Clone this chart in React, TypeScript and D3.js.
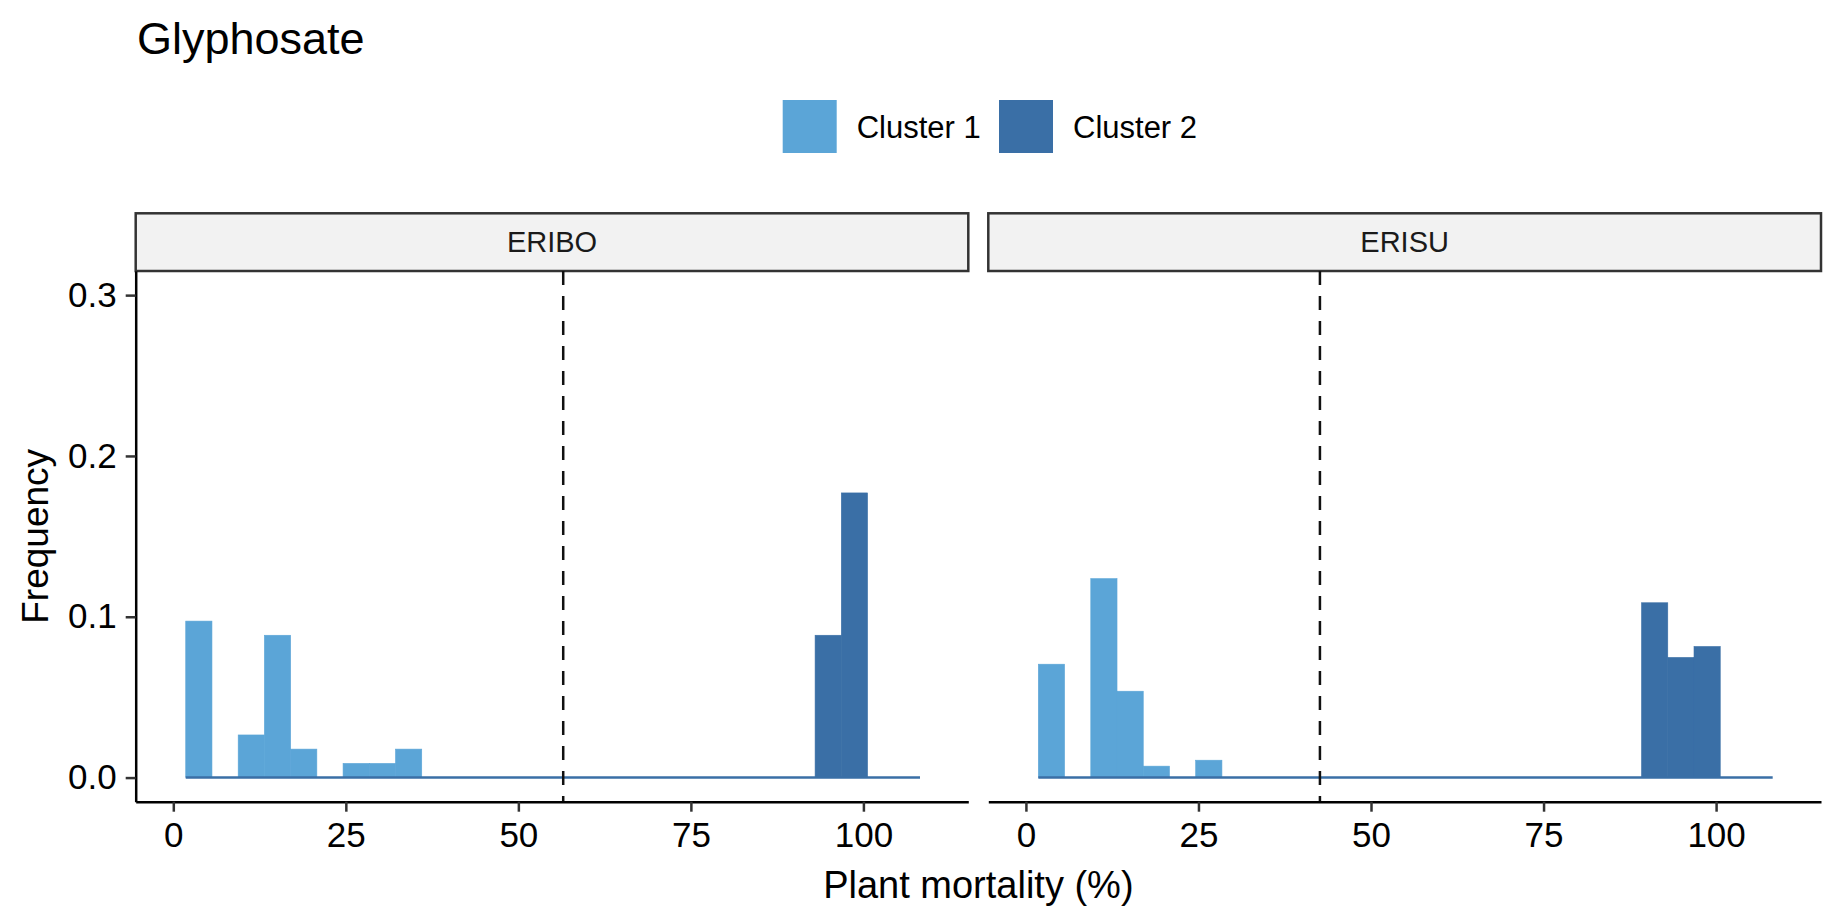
import React, { useEffect, useRef } from "react";
import * as d3 from "d3";

// histogram bins, left edge in % mortality (same bins in both facets)
const binStarts = [
  1.8, 5.6, 9.4, 13.2, 17.0, 20.8, 24.6, 28.4, 32.2, 36.0, 39.8, 43.6, 47.4, 51.2,
  55.0, 58.8, 62.6, 66.4, 70.2, 74.0, 77.8, 81.6, 85.4, 89.2, 93.0, 96.8, 100.6, 104.4,
];
const binWidth = 3.8;

const facets = ["ERIBO", "ERISU"];
const clusters = ["Cluster 1", "Cluster 2"];
const clusterColors = ["#5ba5d7", "#3a6fa6"];
// dashed threshold line per facet
const cutoffs = [56.5, 42.6];

// frequency per bin
const eriboCluster1 = [
  0.0973, 0, 0.0265, 0.0885, 0.0177, 0, 0.0088, 0.0088, 0.0177, 0, 0, 0, 0, 0,
  0, 0, 0, 0, 0, 0, 0, 0, 0, 0, 0, 0, 0, 0,
];
const eriboCluster2 = [
  0, 0, 0, 0, 0, 0, 0, 0, 0, 0, 0, 0, 0, 0,
  0, 0, 0, 0, 0, 0, 0, 0, 0, 0, 0.0885, 0.177, 0, 0,
];
const erisuCluster1 = [
  0.0705, 0, 0.1237, 0.0537, 0.0071, 0, 0.0108, 0, 0, 0, 0, 0, 0, 0,
  0, 0, 0, 0, 0, 0, 0, 0, 0, 0, 0, 0, 0, 0,
];
const erisuCluster2 = [
  0, 0, 0, 0, 0, 0, 0, 0, 0, 0, 0, 0, 0, 0,
  0, 0, 0, 0, 0, 0, 0, 0, 0, 0.1087, 0.0747, 0.0815, 0, 0,
];

const xTicks = [0, 25, 50, 75, 100];
const yTicks = [0, 0.1, 0.2, 0.3];

const FONT = "'Liberation Sans', Arial, Helvetica, sans-serif";

export default function App() {
  const svgRef = useRef<SVGSVGElement>(null);

  useEffect(() => {
    const width = 1823;
    const height = 913;
    const svg = d3.select(svgRef.current)
      .attr("width", width)
      .attr("height", height)
      .style("font-family", FONT);
    svg.selectAll("*").remove();

    const panelTop = 271;
    const panelBottom = 801.7;
    const stripTop = 213.3;
    const panels = [
      { x0: 135.7, x1: 968.3 },
      { x0: 988.3, x1: 1821 },
    ];
    const seriesByFacet = [
      [eriboCluster1, eriboCluster2],
      [erisuCluster1, erisuCluster2],
    ];

    const yScale = d3.scaleLinear()
      .domain([-0.015, 0.315])
      .range([panelBottom, panelTop]);

    facets.forEach((facet, fi) => {
      const p = panels[fi];
      const xScale = d3.scaleLinear()
        .domain([-5.45, 115.2])
        .range([p.x0, p.x1]);

      const g = svg.append("g");

      // strip
      g.append("rect")
        .attr("x", p.x0)
        .attr("y", stripTop)
        .attr("width", p.x1 - p.x0)
        .attr("height", panelTop - stripTop)
        .attr("fill", "#f2f2f2")
        .attr("stroke", "#333")
        .attr("stroke-width", 2.5);
      g.append("text")
        .attr("x", (p.x0 + p.x1) / 2)
        .attr("y", (stripTop + panelTop) / 2)
        .attr("text-anchor", "middle")
        .attr("dominant-baseline", "central")
        .attr("font-size", 29)
        .attr("fill", "#1a1a1a")
        .text(facet);

      // bars (stroked in their own colour so neighbours don't show a seam)
      seriesByFacet[fi].forEach((values, ci) => {
        const bins = binStarts
          .map((start, i) => ({ start, value: values[i] }))
          .filter(d => d.value > 0);
        g.selectAll(`.bar-${ci}`)
          .data(bins)
          .join("rect")
          .attr("x", d => xScale(d.start))
          .attr("y", d => yScale(d.value))
          .attr("width", d => xScale(d.start + binWidth) - xScale(d.start))
          .attr("height", d => yScale(0) - yScale(d.value))
          .attr("fill", clusterColors[ci])
          .attr("stroke", clusterColors[ci])
          .attr("stroke-width", 0.6);
      });

      // zero-height bins show up as a line along 0
      g.append("line")
        .attr("x1", xScale(binStarts[0]))
        .attr("x2", xScale(binStarts[binStarts.length - 1] + binWidth))
        .attr("y1", yScale(0))
        .attr("y2", yScale(0))
        .attr("stroke", clusterColors[1])
        .attr("stroke-width", 2.5);

      // threshold
      g.append("line")
        .attr("x1", xScale(cutoffs[fi]))
        .attr("x2", xScale(cutoffs[fi]))
        .attr("y1", panelTop)
        .attr("y2", panelBottom)
        .attr("stroke", "#111")
        .attr("stroke-width", 2.5)
        .attr("stroke-dasharray", "14,11");

      // x axis
      const xAxis = d3.axisBottom(xScale)
        .tickValues(xTicks)
        .tickSize(10)
        .tickSizeOuter(0)
        .tickPadding(10);
      const xg = g.append("g")
        .attr("transform", `translate(0, ${panelBottom})`)
        .call(xAxis);
      xg.select(".domain").attr("stroke", "#000").attr("stroke-width", 2.5);
      xg.selectAll(".tick line").attr("stroke", "#333").attr("stroke-width", 2.5);
      xg.selectAll(".tick text")
        .attr("font-size", 35)
        .attr("font-family", FONT)
        .attr("fill", "#000");

      if (fi === 0) {
        const yAxis = d3.axisLeft(yScale)
          .tickValues(yTicks)
          .tickFormat(d3.format(".1f"))
          .tickSize(10)
          .tickSizeOuter(0)
          .tickPadding(9);
        const yg = g.append("g")
          .attr("transform", `translate(${p.x0}, 0)`)
          .call(yAxis);
        yg.select(".domain").attr("stroke", "#000").attr("stroke-width", 2.5);
        yg.selectAll(".tick line").attr("stroke", "#333").attr("stroke-width", 2.5);
        yg.selectAll(".tick text")
          .attr("font-size", 35)
          .attr("font-family", FONT)
          .attr("fill", "#000");
      }
    });

    // title
    svg.append("text")
      .attr("x", 137)
      .attr("y", 54)
      .attr("font-size", 45)
      .attr("fill", "#000")
      .text("Glyphosate");

    // legend
    const legendX = [782.7, 999];
    clusters.forEach((c, i) => {
      svg.append("rect")
        .attr("x", legendX[i])
        .attr("y", 100)
        .attr("width", 54)
        .attr("height", 53)
        .attr("fill", clusterColors[i]);
      svg.append("text")
        .attr("x", legendX[i] + 74)
        .attr("y", 127)
        .attr("dominant-baseline", "central")
        .attr("font-size", 31)
        .attr("fill", "#000")
        .text(c);
    });

    // axis titles
    svg.append("text")
      .attr("x", (135.7 + 1821) / 2)
      .attr("y", 898)
      .attr("text-anchor", "middle")
      .attr("font-size", 38)
      .attr("fill", "#000")
      .text("Plant mortality (%)");

    svg.append("text")
      .attr("transform", `translate(48, ${(271 + 801.7) / 2}) rotate(-90)`)
      .attr("text-anchor", "middle")
      .attr("font-size", 37)
      .attr("fill", "#000")
      .text("Frequency");
  }, []);

  return (
    <div style={{ position: "absolute", left: 0, top: 0 }}>
      <svg ref={svgRef} style={{ display: "block" }}></svg>
    </div>
  );
}
